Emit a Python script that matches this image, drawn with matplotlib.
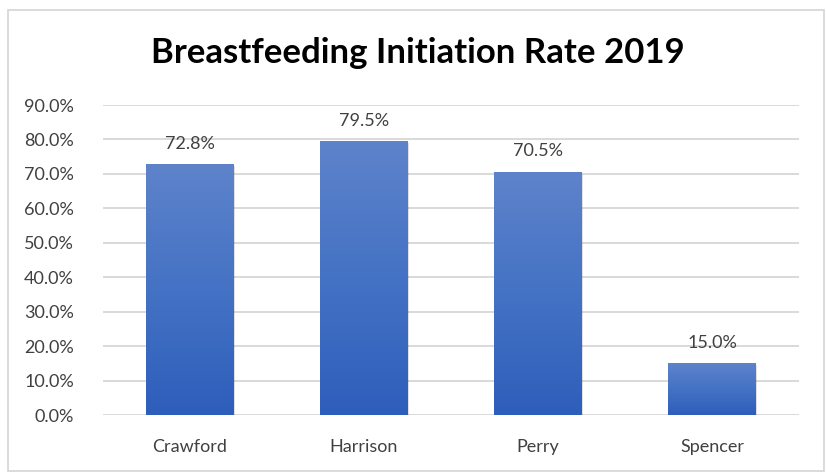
import matplotlib
matplotlib.use("Agg")
import matplotlib.pyplot as plt
import numpy as np
from matplotlib.patches import Rectangle
from matplotlib.colors import LinearSegmentedColormap

categories = ["Crawford", "Harrison", "Perry", "Spencer"]
values = [72.8, 79.5, 70.5, 15.0]
yticks = [0, 10, 20, 30, 40, 50, 60, 70, 80, 90]
title = "Breastfeeding Initiation Rate 2019"

plt.rcParams['font.family'] = ['Lato', 'DejaVu Sans']

fig = plt.figure(figsize=(8.26, 4.75), dpi=100)
fig.patch.set_facecolor("white")
# outer chart border
fig.patches.append(Rectangle((8/826, 1 - 471/475), 816/826, 461/475, transform=fig.transFigure,
                             fill=False, edgecolor="#D4D4D4", linewidth=1.2))

ax = fig.add_axes([103/826, 1 - 415/475, 696/826, (415 - 105)/475])
ax.set_xlim(-0.5, len(categories) - 0.5)
ax.set_ylim(0, 90)

fs = 13
for s in ax.spines.values():
    s.set_visible(False)
ax.set_yticks(yticks)
ax.set_yticklabels([f"{v:.1f}%" for v in yticks], fontsize=fs, color="#404040")
ax.yaxis.grid(True, color="#D9D9D9", linewidth=1.4)
ax.set_axisbelow(True)
ax.tick_params(axis="y", length=0, pad=21)
ax.tick_params(axis="x", length=0, pad=17)
ax.set_xticks(range(len(categories)))
ax.set_xticklabels(categories, fontsize=fs, color="#404040")

cmap = LinearSegmentedColormap.from_list("g", ["#2E5EBB", "#4472C4", "#5E83CB"])
grad = np.linspace(0, 1, 256).reshape(-1, 1)
width = 0.505
bars = ax.bar(range(len(categories)), values, width=width, color="none", edgecolor="none")
for b, v in zip(bars, values):
    x0 = b.get_x()
    # subtle shadow
    ax.add_patch(Rectangle((x0 + 0.008, -0.4), width, v, facecolor="#000000", alpha=0.12,
                           edgecolor="none", zorder=2))
    im = ax.imshow(grad, cmap=cmap, aspect="auto", origin="lower",
                   extent=(x0, x0 + width, 0, v), zorder=3)
    im.set_clip_path(b)
    ax.text(b.get_x() + width / 2, v + 6.0, f"{v:.1f}%", ha="center", va="center",
            fontsize=fs, color="#404040", zorder=4)
ax.set_xlim(-0.5, len(categories) - 0.5)
ax.set_ylim(0, 90)

fig.text(418/826, 1 - 53/475, title, ha="center", va="center", fontsize=25,
         fontweight="bold", color="#000000")

fig.savefig("out.png", dpi=100)
